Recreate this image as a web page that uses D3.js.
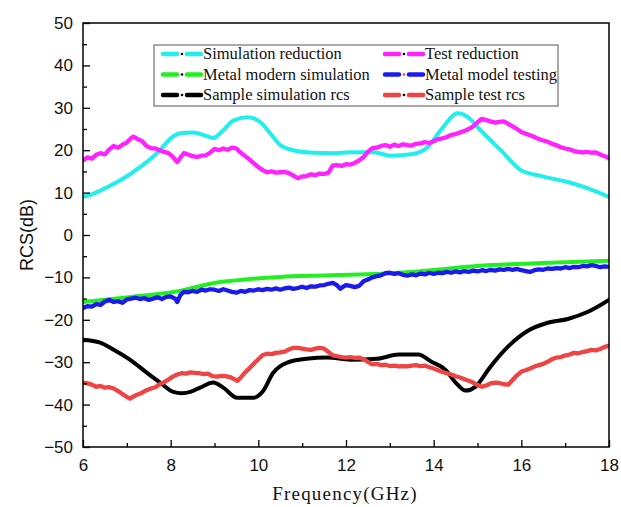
<!DOCTYPE html>
<html>
<head>
<meta charset="utf-8">
<script src="https://d3js.org/d3.v7.min.js"></script>
<style>
  html, body { margin: 0; padding: 0; background: #fff; }
  svg { display: block; }
</style>
</head>
<body>
<svg id="chart" width="621" height="507"></svg>
<script>
// Frequency (GHz) / RCS (dB) pairs for each curve
const simReduction = [
  [6,9.0],[6.2,9.6],[6.4,10.5],[6.85,12.9],[7.3,16],[7.76,20],[8.0,22.8],[8.22,24],[8.5,24.2],
  [8.83,23.3],[8.97,22.9],[9.2,24.7],[9.43,27],[9.75,27.8],[10.05,26.6],[10.27,24],[10.5,21.2],
  [10.8,20],[11.26,19.4],[11.71,19.3],[12.1,19.5],[12.63,19.5],[13.02,18.7],[13.52,19.1],
  [13.86,20.7],[14.16,24.7],[14.55,28.7],[14.78,27.8],[15.07,24.7],[15.53,20],[15.99,15.3],
  [16.45,13.9],[17.06,12.5],[17.52,11],[18,9]
];
const testReduction = [
  [6.0,17.6],[6.1,18.3],[6.2,18.0],[6.3,18.9],[6.4,19.3],[6.5,19.0],[6.6,20.2],[6.7,21.0],[6.8,20.6],
  [6.9,21.3],[7.0,21.8],[7.1,22.9],[7.15,23.2],[7.25,22.6],[7.35,22.1],[7.45,21.0],[7.55,20.5],
  [7.65,20.4],[7.75,20.0],[7.85,19.6],[7.95,19.3],[8.05,18.4],[8.15,17.2],[8.22,18.2],[8.3,19.3],
  [8.4,19.0],[8.5,18.6],[8.6,18.4],[8.7,18.7],[8.8,18.8],[8.9,19.4],[9.0,20.3],[9.1,20.0],[9.2,20.4],
  [9.3,20.1],[9.4,20.6],[9.5,20.4],[9.6,19.4],[9.7,18.6],[9.8,17.8],[9.9,16.9],[10.0,16.0],[10.1,15.3],
  [10.2,14.8],[10.3,15.0],[10.4,14.7],[10.5,14.8],[10.6,14.9],[10.7,14.6],[10.8,14.0],[10.9,13.4],
  [11.0,13.8],[11.1,13.9],[11.2,14.3],[11.3,14.1],[11.4,14.5],[11.5,14.4],[11.6,14.7],[11.7,16.4],
  [11.8,16.5],[11.9,16.3],[12.0,16.7],[12.1,16.6],[12.2,17.0],[12.3,17.6],[12.4,18.4],[12.5,19.6],
  [12.6,20.5],[12.7,20.6],[12.8,21.0],[12.9,21.2],[13.0,20.8],[13.1,21.3],[13.2,21.0],[13.3,21.4],
  [13.4,21.2],[13.5,21.1],[13.6,21.5],[13.7,21.6],[13.8,21.9],[13.9,21.7],[14.0,22.1],[14.1,22.6],
  [14.2,22.8],[14.3,23.1],[14.4,23.6],[14.5,23.8],[14.6,24.2],[14.7,24.5],[14.8,25.0],[14.9,25.6],
  [15.0,26.6],[15.1,27.4],[15.2,27.1],[15.3,26.8],[15.4,26.5],[15.5,26.7],[15.6,26.8],[15.7,26.2],
  [15.8,25.6],[15.9,25.0],[16.0,24.3],[16.1,23.9],[16.2,23.5],[16.3,23.1],[16.4,22.6],[16.5,22.3],
  [16.6,22.0],[16.7,21.5],[16.8,21.2],[16.9,20.7],[17.0,20.4],[17.1,20.2],[17.2,19.8],[17.3,19.6],
  [17.4,19.5],[17.5,19.6],[17.6,19.4],[17.7,19.5],[17.8,19.0],[17.9,18.6],[18.0,18.1]
];
const metalSim = [
  [6,-15.8],[7.1,-14.6],[8.1,-13.4],[9.0,-11.3],[9.8,-10.4],[10.5,-9.9],[11.3,-9.6],[12.1,-9.4],
  [13.5,-8.7],[15.0,-7.3],[16.5,-6.6],[18,-6.1]
];
const metalTest = [
  [6.0,-17.2],[6.1,-16.8],[6.2,-16.9],[6.3,-16.3],[6.4,-16.5],[6.5,-15.7],[6.6,-15.3],[6.7,-15.8],
  [6.8,-15.6],[6.9,-16.0],[7.0,-15.2],[7.1,-15.0],[7.2,-14.8],[7.3,-15.1],[7.4,-14.9],[7.5,-15.3],
  [7.6,-15.0],[7.7,-14.7],[7.8,-15.1],[7.9,-14.6],[8.0,-14.5],[8.1,-15.0],[8.15,-15.8],[8.22,-14.2],
  [8.3,-13.4],[8.4,-13.5],[8.5,-13.2],[8.6,-13.4],[8.7,-12.9],[8.8,-13.1],[8.9,-12.8],[9.0,-12.9],
  [9.1,-13.2],[9.2,-12.8],[9.3,-13.1],[9.4,-13.4],[9.5,-13.6],[9.6,-13.2],[9.7,-13.4],[9.8,-13.0],
  [9.9,-13.1],[10.0,-12.8],[10.1,-13.0],[10.2,-12.7],[10.3,-12.9],[10.4,-12.6],[10.5,-12.9],
  [10.6,-12.6],[10.7,-12.4],[10.8,-12.7],[10.9,-12.5],[11.0,-12.2],[11.1,-12.5],[11.2,-12.1],
  [11.3,-12.2],[11.4,-11.9],[11.5,-11.8],[11.6,-11.5],[11.7,-11.3],[11.8,-11.9],[11.87,-12.7],
  [11.95,-12.1],[12.0,-11.8],[12.1,-12.0],[12.2,-12.3],[12.3,-12.0],[12.4,-10.9],[12.5,-10.5],
  [12.6,-10.0],[12.7,-9.7],[12.8,-9.5],[12.9,-9.0],[13.0,-8.9],[13.1,-9.2],[13.2,-9.0],[13.3,-9.4],
  [13.4,-9.6],[13.5,-9.3],[13.6,-9.5],[13.7,-9.1],[13.8,-9.3],[13.9,-8.9],[14.0,-9.2],[14.1,-8.9],
  [14.2,-9.0],[14.3,-8.7],[14.4,-8.9],[14.5,-8.6],[14.6,-8.8],[14.7,-8.5],[14.8,-8.7],[14.9,-8.4],
  [15.0,-8.6],[15.1,-8.3],[15.2,-8.5],[15.3,-8.2],[15.4,-8.4],[15.5,-8.1],[15.6,-8.2],[15.7,-8.0],
  [15.8,-8.2],[15.9,-8.0],[16.0,-8.3],[16.1,-8.5],[16.2,-8.7],[16.3,-8.3],[16.4,-8.1],[16.5,-8.2],
  [16.6,-7.9],[16.7,-8.0],[16.8,-7.8],[16.9,-7.9],[17.0,-7.6],[17.1,-7.8],[17.2,-7.5],[17.3,-7.6],
  [17.4,-7.3],[17.5,-7.4],[17.6,-7.1],[17.7,-7.3],[17.8,-7.6],[17.9,-7.4],[18.0,-7.5]
];
const sampleSim = [
  [6,-24.7],[6.39,-25.4],[6.69,-27],[7.07,-29.4],[7.46,-32.5],[7.76,-34.8],[8.06,-37.0],[8.25,-37.3],
  [8.45,-37.0],[8.67,-36],[8.97,-34.8],[9.2,-36],[9.52,-38.4],[9.88,-38.4],[10.1,-36.9],[10.34,-32.5],
  [10.66,-30.1],[11.1,-29.2],[11.58,-28.9],[12.1,-29.4],[12.7,-29.2],[13.2,-28.2],[13.65,-28.2],
  [13.95,-29.9],[14.27,-31.8],[14.5,-34.8],[14.73,-36.7],[14.95,-35.8],[15.3,-31],[15.69,-26.4],
  [16.15,-22.6],[16.6,-20.7],[17.06,-19.8],[17.52,-18.1],[18,-15.3]
];
const sampleTest = [
  [6.0,-34.8],[6.1,-35.0],[6.2,-35.3],[6.3,-35.8],[6.4,-35.6],[6.5,-36.0],[6.6,-35.9],[6.7,-36.2],
  [6.8,-36.8],[6.9,-37.5],[7.0,-38.2],[7.07,-38.6],[7.15,-38.1],[7.25,-37.6],[7.35,-37.2],[7.45,-36.6],
  [7.55,-36.2],[7.65,-35.9],[7.75,-35.2],[7.85,-34.7],[7.95,-34.1],[8.05,-33.4],[8.15,-32.9],
  [8.25,-32.6],[8.35,-32.7],[8.45,-32.4],[8.55,-32.5],[8.65,-32.6],[8.75,-32.8],[8.85,-32.7],
  [8.95,-33.3],[9.05,-33.4],[9.15,-33.2],[9.25,-33.3],[9.35,-33.5],[9.45,-34.0],[9.52,-34.4],
  [9.6,-33.6],[9.7,-32.4],[9.8,-31.4],[9.9,-30.3],[10.0,-29.3],[10.1,-28.3],[10.2,-28.0],[10.3,-28.1],
  [10.4,-27.8],[10.5,-27.7],[10.6,-27.5],[10.7,-27.0],[10.8,-26.6],[10.9,-26.6],[11.0,-26.8],
  [11.1,-27.0],[11.2,-27.1],[11.3,-26.8],[11.4,-26.6],[11.5,-26.8],[11.6,-27.6],[11.7,-28.4],
  [11.8,-28.6],[11.9,-28.8],[12.0,-28.9],[12.1,-28.8],[12.2,-29.0],[12.3,-28.9],[12.4,-29.3],
  [12.5,-29.9],[12.6,-30.5],[12.7,-30.4],[12.8,-30.7],[12.9,-30.6],[13.0,-30.9],[13.1,-30.8],
  [13.2,-31.0],[13.3,-30.9],[13.4,-31.0],[13.5,-30.8],[13.6,-30.7],[13.7,-30.9],[13.8,-30.8],
  [13.9,-31.2],[14.0,-31.5],[14.1,-31.9],[14.2,-32.3],[14.3,-32.6],[14.4,-32.9],[14.5,-33.3],
  [14.6,-33.6],[14.7,-34.0],[14.8,-34.4],[14.9,-34.8],[15.0,-35.4],[15.1,-35.8],[15.2,-35.5],
  [15.3,-35.0],[15.4,-34.8],[15.5,-34.9],[15.6,-35.2],[15.7,-35.3],[15.8,-34.2],[15.9,-33.1],
  [16.0,-32.2],[16.1,-31.9],[16.2,-31.5],[16.3,-31.0],[16.4,-30.7],[16.5,-30.4],[16.6,-29.9],
  [16.7,-29.3],[16.8,-28.9],[16.9,-28.8],[17.0,-28.4],[17.1,-28.2],[17.2,-27.8],[17.3,-27.9],
  [17.4,-27.6],[17.5,-27.4],[17.6,-27.1],[17.7,-27.2],[17.8,-26.9],[17.9,-26.4],[18.0,-26.1]
];

const seriesNames = [
  "Simulation reduction", "Test reduction",
  "Metal modern simulation", "Metal model testing",
  "Sample simulation rcs", "Sample test rcs"
];
const seriesData = [simReduction, testReduction, metalSim, metalTest, sampleSim, sampleTest];
const seriesColors = ["#22eeee", "#ff22ff", "#22ee22", "#1a1aee", "#000000", "#ee4444"];
const seriesSmooth = [true, false, true, false, true, false];

const xTicks = [6, 8, 10, 12, 14, 16, 18];
const yTicks = [-50, -40, -30, -20, -10, 0, 10, 20, 30, 40, 50];
const xLabel = "Frequency(GHz)";
const yLabel = "RCS(dB)";

const svg = d3.select("#chart");
const plot = { left: 83, right: 609, top: 23, bottom: 447 };

const x = d3.scaleLinear().domain([6, 18]).range([plot.left, plot.right]);
const y = d3.scaleLinear().domain([-50, 50]).range([plot.bottom, plot.top]);

// curves, clipped to the plot frame
svg.append("defs").append("clipPath").attr("id", "plotClip")
  .append("rect").attr("x", plot.left).attr("y", plot.top)
  .attr("width", plot.right - plot.left).attr("height", plot.bottom - plot.top);

const lines = svg.append("g").attr("clip-path", "url(#plotClip)");
seriesData.forEach((d, i) => {
  const gen = d3.line().x(p => x(p[0])).y(p => y(p[1]))
    .curve(seriesSmooth[i] ? d3.curveMonotoneX : d3.curveLinear);
  lines.append("path").datum(d)
    .attr("d", gen)
    .attr("fill", "none")
    .attr("stroke", seriesColors[i])
    .attr("stroke-width", seriesSmooth[i] ? 4 : 4.3)
    .attr("stroke-linejoin", "round")
    .attr("stroke-linecap", "round");
});

// axes with inward ticks
const axisFont = "Arial, 'Liberation Sans', sans-serif";
const yAxis = d3.axisLeft(y).tickValues(yTicks).tickSize(-7).tickPadding(10)
  .tickFormat(d3.format("d"));
const gy = svg.append("g").attr("transform", `translate(${plot.left},0)`).call(yAxis);
gy.select(".domain").remove();
gy.selectAll("line").attr("stroke", "#000").attr("stroke-width", 1.3);
gy.selectAll("text").attr("font-family", axisFont).attr("font-size", 17).attr("fill", "#111");

const yMinor = d3.axisLeft(y).tickValues(d3.range(-45, 50, 10)).tickSize(-4).tickFormat("");
const gym = svg.append("g").attr("transform", `translate(${plot.left},0)`).call(yMinor);
gym.select(".domain").remove();
gym.selectAll("line").attr("stroke", "#000").attr("stroke-width", 1.3);

const xAxis = d3.axisBottom(x).tickValues(xTicks).tickSize(-7).tickPadding(12)
  .tickFormat(d3.format("d"));
const gx = svg.append("g").attr("transform", `translate(0,${plot.bottom})`).call(xAxis);
gx.select(".domain").remove();
gx.selectAll("line").attr("stroke", "#000").attr("stroke-width", 1.3);
gx.selectAll("text").attr("font-family", axisFont).attr("font-size", 17).attr("fill", "#111");

const xMinor = d3.axisBottom(x).tickValues(d3.range(7, 18, 2)).tickSize(-4).tickFormat("");
const gxm = svg.append("g").attr("transform", `translate(0,${plot.bottom})`).call(xMinor);
gxm.select(".domain").remove();
gxm.selectAll("line").attr("stroke", "#000").attr("stroke-width", 1.3);

// frame
svg.append("rect")
  .attr("x", plot.left).attr("y", plot.top)
  .attr("width", plot.right - plot.left).attr("height", plot.bottom - plot.top)
  .attr("fill", "none").attr("stroke", "#000").attr("stroke-width", 1.5);

// axis titles
svg.append("text")
  .attr("x", (plot.left + plot.right) / 2 - 1).attr("y", 500)
  .attr("text-anchor", "middle")
  .attr("font-family", "'Liberation Serif', 'DejaVu Serif', serif")
  .attr("font-size", 19).attr("letter-spacing", 1.2).attr("fill", "#111")
  .text(xLabel);

svg.append("text")
  .attr("transform", `translate(33,${(plot.top + plot.bottom) / 2}) rotate(-90)`)
  .attr("text-anchor", "middle")
  .attr("font-family", axisFont)
  .attr("font-size", 18).attr("fill", "#111")
  .text(yLabel);

// legend
const legend = svg.append("g");
legend.append("rect")
  .attr("x", 154).attr("y", 45).attr("width", 404).attr("height", 61)
  .attr("fill", "#fff").attr("stroke", "#555").attr("stroke-width", 1);

const colX = [161, 383];
const rowY = [54, 74.5, 95];
seriesNames.forEach((name, i) => {
  const cx = colX[i % 2];
  const cy = rowY[Math.floor(i / 2)];
  const g = legend.append("g");
  g.append("line").attr("x1", cx + 2).attr("x2", cx + 16).attr("y1", cy).attr("y2", cy)
    .attr("stroke", seriesColors[i]).attr("stroke-width", 4.5).attr("stroke-linecap", "round");
  g.append("circle").attr("cx", cx + 21).attr("cy", cy).attr("r", 1.3)
    .attr("fill", i === 3 ? "#ee4444" : "#000");
  g.append("line").attr("x1", cx + 26).attr("x2", cx + 40).attr("y1", cy).attr("y2", cy)
    .attr("stroke", seriesColors[i]).attr("stroke-width", 4.5).attr("stroke-linecap", "round");
  g.append("text").attr("x", cx + 42).attr("y", cy + 5)
    .attr("font-family", "'Liberation Serif', 'Times New Roman', serif")
    .attr("font-size", 16.5).attr("fill", "#111")
    .text(name);
});
</script>
</body>
</html>
